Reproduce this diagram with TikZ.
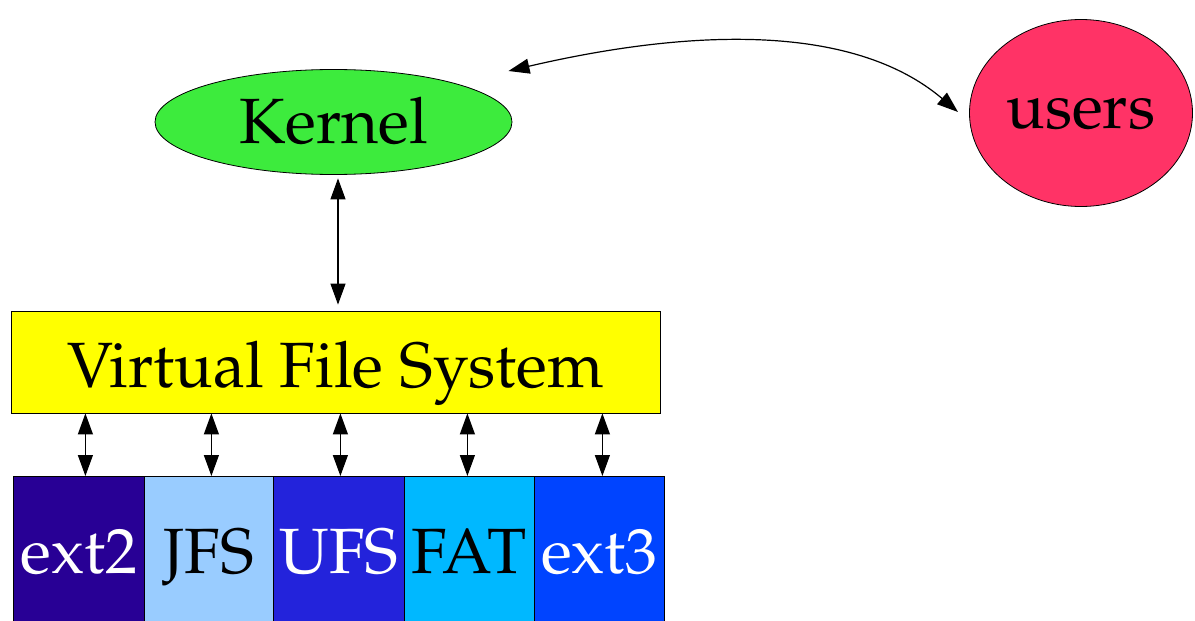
\documentclass[tikz,border=0pt]{standalone}
\usepackage[T1]{fontenc}
\usepackage{mathpazo}
\usetikzlibrary{shapes.geometric,arrows.meta,calc}
\definecolor{kgreen}{HTML}{3DEB3D}
\definecolor{ured}{HTML}{FF3366}
\definecolor{vyellow}{HTML}{FFFF00}
\definecolor{cext2}{HTML}{280095}
\definecolor{cjfs}{HTML}{99CCFF}
\definecolor{cufs}{HTML}{2323DB}
\definecolor{cfat}{HTML}{00B8FF}
\definecolor{cext3}{HTML}{0044FF}
\begin{document}
\begin{tikzpicture}[x=1pt,y=-1pt,
  lbl/.style={font=\fontsize{64}{70}\selectfont, text depth=0pt},
  fsbox/.style={draw=black, line width=0.8pt, minimum height=146pt, inner sep=0pt, anchor=north west, lbl, text height=49pt},
  link/.style={line width=1.2pt, {Triangle[length=21pt,width=15pt]}-{Triangle[length=21pt,width=15pt]}}]
\useasboundingbox (0,0) rectangle (1195,621);
\clip (0,0) rectangle (1195,621);
\node[ellipse, draw, line width=0.8pt, fill=kgreen, minimum width=357pt, minimum height=105pt, inner sep=0pt, lbl, text height=42pt] (kernel) at (333.5,122) {Kernel};
\node[ellipse, draw, line width=0.8pt, fill=ured, minimum width=223pt, minimum height=187pt, inner sep=0pt, lbl, text height=30pt] (users) at (1081,113) {users};
\node[rectangle, draw, line width=0.8pt, fill=vyellow, minimum width=649pt, minimum height=102pt, inner sep=0pt, lbl, text height=50pt] (vfs) at (335.5,362) {Virtual File System};
\node[fsbox, fill=cext2, text=white, minimum width=131pt] (b1) at (13,476) {ext2};
\node[fsbox, fill=cjfs, text=black, minimum width=129pt] (b2) at (144,476) {JFS};
\node[fsbox, fill=cufs, text=white, minimum width=131pt] (b3) at (273,476) {UFS};
\node[fsbox, fill=cfat, text=black, minimum width=130pt] (b4) at (404,476) {FAT};
\node[fsbox, fill=cext3, text=white, minimum width=130pt] (b5) at (534,476) {ext3};
\draw[link] ([xshift=4.5pt,yshift=-3.5pt]kernel.south) -- ([xshift=2.5pt,yshift=6pt]vfs.north);
\draw[link] ([xshift=6.5pt]b1.north) -- ([xshift=6.5pt]b1.north |- vfs.south);
\draw[link] ([xshift=2.5pt]b2.north) -- ([xshift=2.5pt]b2.north |- vfs.south);
\draw[link] ([xshift=1.5pt]b3.north) -- ([xshift=1.5pt]b3.north |- vfs.south);
\draw[link] ([xshift=-2pt]b4.north) -- ([xshift=-2pt]b4.north |- vfs.south);
\draw[link] ([xshift=3pt]b5.north) -- ([xshift=3pt]b5.north |- vfs.south);
\draw[link] ($(kernel.center)+(175,-51)$) .. controls (650,38) and (840,12) .. ($(users.center)+(-123,-1)$);
\end{tikzpicture}
\end{document}
